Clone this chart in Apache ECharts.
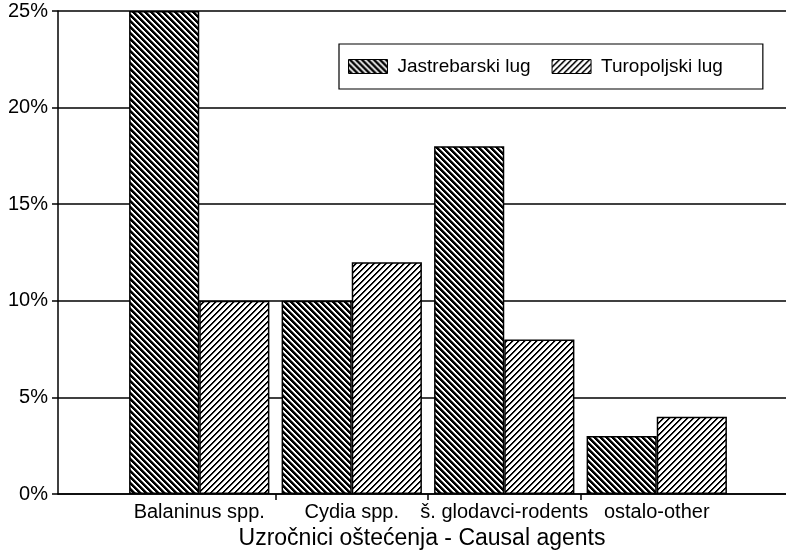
<!DOCTYPE html>
<html><head><meta charset="utf-8">
<script src="https://cdn.jsdelivr.net/npm/echarts@6/dist/echarts.min.js"></script>
<style>html,body{margin:0;padding:0;background:#fff}#c{width:786px;height:555px}</style>
</head><body><div id="c"></div>
<script>
const categories = ['Balaninus spp.', 'Cydia spp.', 'š. glodavci-rodents', 'ostalo-other'];
const seriesNames = ['Jastrebarski lug', 'Turopoljski lug'];
const jastrebarski = [25, 10, 18, 3];
const turopoljski = [10, 12, 8, 4];
const yMin = 0, yMax = 25, yStep = 5;
const boundaryTicks = ['', '', '', '', ''];
const axisTitle = 'Uzročnici oštećenja - Causal agents';

const FONT = "'Liberation Sans', Arial, sans-serif";

// pixel hatch: levels per diagonal offset (0 = black, 255 = white)
function hatch(dir, levels) {
  const s = levels.length;
  const c = document.createElement('canvas');
  c.width = s; c.height = s;
  const g = c.getContext('2d');
  const img = g.createImageData(s, s);
  for (let y = 0; y < s; y++) {
    for (let x = 0; x < s; x++) {
      const k = dir === 'back' ? ((x - y) % s + s) % s : (x + y) % s;
      const v = levels[k];
      const i = (y * s + x) * 4;
      img.data[i] = v; img.data[i + 1] = v; img.data[i + 2] = v; img.data[i + 3] = 255;
    }
  }
  g.putImageData(img, 0, 0);
  return c;
}

const patJ = { image: hatch('back', [0, 0, 0, 128, 255, 255]), repeat: 'repeat' };
const patT = { image: hatch('fwd', [0, 0, 200, 255, 255, 255]), repeat: 'repeat' };

const chart = echarts.init(document.getElementById('c'), null, { renderer: 'canvas' });
chart.setOption({
  animation: false,
  backgroundColor: '#fff',
  textStyle: { fontFamily: FONT, color: '#000' },
  grid: [
    { left: 58, right: 0, top: 11, bottom: 61 },
    { left: 123, right: 53, top: 11, bottom: 61 }
  ],
  legend: {
    data: seriesNames,
    left: 339, top: 44,
    orient: 'horizontal',
    icon: 'rect',
    itemWidth: 39, itemHeight: 14, itemGap: 21,
    padding: [13, 40, 13, 9],
    borderColor: '#000', borderWidth: 1.2,
    backgroundColor: '#fff',
    itemStyle: { borderColor: '#000', borderWidth: 1 },
    textStyle: { fontSize: 19, color: '#000', fontFamily: FONT, padding: [0, 0, 0, 5] }
  },
  xAxis: [
    {
      gridIndex: 0, type: 'value', min: 0, max: 1,
      axisLine: { show: true, onZero: false, lineStyle: { color: '#000', width: 1.5 } },
      axisTick: { show: false }, axisLabel: { show: false }, splitLine: { show: false },
      name: axisTitle, nameLocation: 'middle', nameGap: 33,
      nameTextStyle: { fontSize: 23, color: '#000', fontFamily: FONT }
    },
    {
      gridIndex: 1, type: 'category', data: categories, position: 'bottom',
      axisLine: { show: false }, axisTick: { show: false },
      axisLabel: { fontSize: 20, color: '#000', margin: 8, interval: 0, fontFamily: FONT }
    },
    {
      gridIndex: 1, type: 'category', data: boundaryTicks, boundaryGap: false, position: 'bottom',
      axisLine: { show: false }, axisLabel: { show: false },
      axisTick: { show: true, interval: function (i) { return i > 0 && i < boundaryTicks.length - 1; }, length: 6, lineStyle: { color: '#000', width: 1.5 } }
    }
  ],
  yAxis: [
    {
      gridIndex: 0, type: 'value', min: yMin, max: yMax, interval: yStep,
      axisLine: { show: true, onZero: false, lineStyle: { color: '#000', width: 1.5 } },
      axisTick: { show: true, length: 6, lineStyle: { color: '#000', width: 1.5 } },
      axisLabel: { formatter: '{value}%', fontSize: 20, color: '#000', margin: 10, fontFamily: FONT },
      splitLine: { show: true, lineStyle: { color: '#000', width: 1.5 } }
    },
    { gridIndex: 1, type: 'value', min: yMin, max: yMax, show: false }
  ],
  series: [
    {
      name: seriesNames[0], type: 'bar', xAxisIndex: 1, yAxisIndex: 1, data: jastrebarski,
      barGap: '0%', barCategoryGap: '8%',
      itemStyle: { color: patJ, borderColor: '#000', borderWidth: 1.5 }
    },
    {
      name: seriesNames[1], type: 'bar', xAxisIndex: 1, yAxisIndex: 1, data: turopoljski,
      barGap: '0%', barCategoryGap: '8%',
      itemStyle: { color: patT, borderColor: '#000', borderWidth: 1.5 }
    }
  ]
});
</script>
</body></html>
